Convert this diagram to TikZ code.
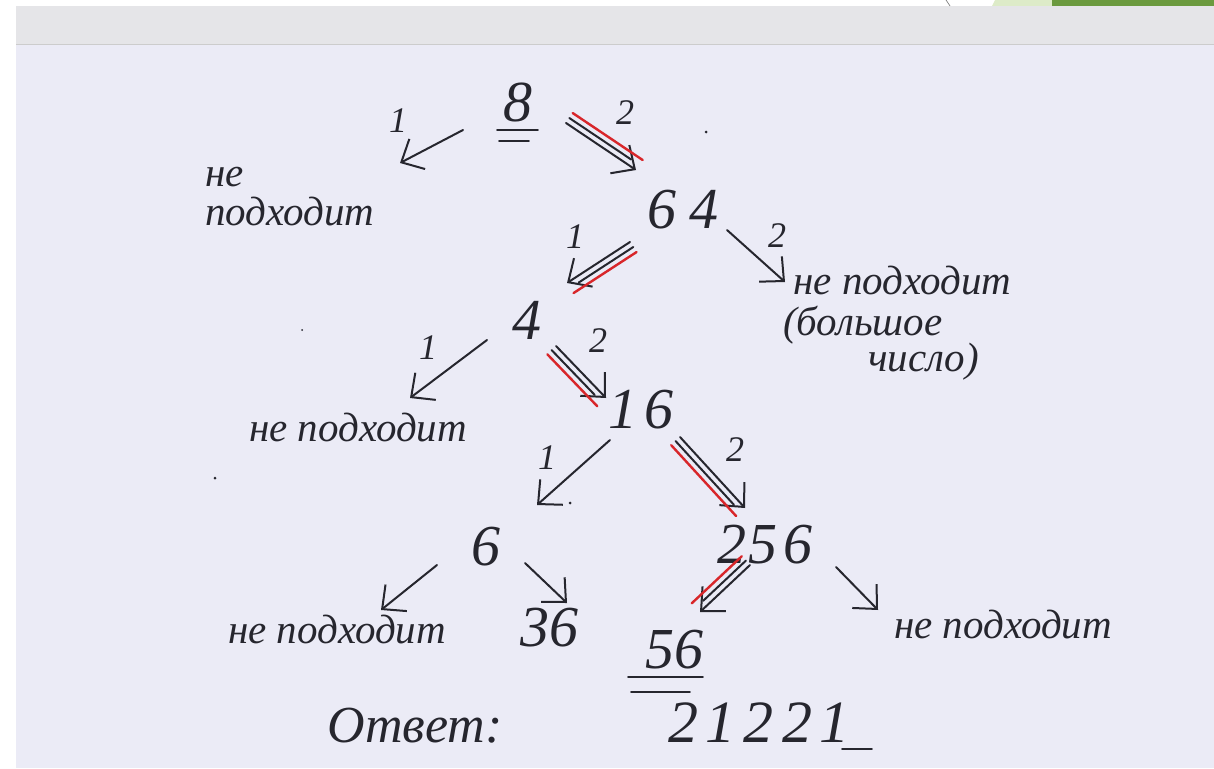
\documentclass[tikz,border=0pt]{standalone}
\usepackage{fontspec}
\setmainfont{Liberation Serif}
\usetikzlibrary{arrows.meta,calc}
\definecolor{paper}{HTML}{EBEBF6}
\definecolor{band}{HTML}{E5E5E8}
\definecolor{ink}{HTML}{26262E}
\definecolor{redink}{HTML}{D8262A}
\definecolor{dgreen}{HTML}{6B9A3E}
\definecolor{lgreen}{HTML}{DDEBC8}
\newcommand\dblarrow[4]{%
  \draw[arr] (#1) -- (#2);
  \draw[shaft, shorten >=10pt] ($(#1)!6pt!#3:(#2)$) -- ($(#2)!6pt!#4:(#1)$);
  \draw[redmark] ($(#1)!12pt!#3:(#2)$) -- ($(#2)!12pt!#4:(#1)$);}
\begin{document}
\begin{tikzpicture}[x=1pt,y=-1pt,
  hand/.style={font=\fontsize{41}{45}\selectfont\itshape, text=ink, inner sep=0pt},
  num/.style={font=\fontsize{58}{60}\selectfont\itshape, text=ink, inner sep=0pt},
  lab/.style={font=\fontsize{36}{38}\selectfont\itshape, text=ink, inner sep=0pt},
  arr/.style={draw=ink, line width=2pt, line cap=round, -{Straight Barb[length=18pt,width=34pt,line width=2pt]}},
  shaft/.style={draw=ink, line width=2pt, line cap=round},
  redmark/.style={draw=redink, line width=2.4pt, line cap=round},
  uline/.style={draw=ink, line width=1.8pt, line cap=round},
  speck/.style={fill=ink, circle, inner sep=0pt, minimum size=3pt}]
\useasboundingbox (0,0) rectangle (1214,768);
% paper and scan edges
\fill[paper] (0,0) rectangle (1214,768);
\fill[white] (0,0) rectangle (16,768);
\fill[white] (0,0) rectangle (1214,6);
\fill[band] (16,6) rectangle (1214,44);
\draw[draw=gray!40, line width=0.8pt] (16,44) -- (1214,44);
\fill[lgreen] (995,0) -- (1060,0) -- (1052,6) -- (992,6) -- cycle;
\fill[dgreen] (1052,0) rectangle (1214,6);
\draw[gray, line width=0.7pt] (946,0) .. controls (948,3) .. (950,6);

% nodes
\node[num] (n8) at (518,102) {8};
\draw[uline] (497,130) -- (538,130);
\draw[uline] (499,141) -- (529,141);
\node[hand, align=left, anchor=west] (nf1) at (205,197) {не\\[-6pt]подходит};
\node[num] (n64) at (683,210) {6\kern14pt 4};
\node[hand, anchor=west] (nf2a) at (793,281) {не подходит};
\node[hand, anchor=west] (nf2b) at (783,325) {(большое};
\node[hand, anchor=west] (nf2c) at (868,362) {число)};
\node[num] (n4) at (527,320) {4};
\node[hand] (nf3) at (358,428) {не подходит};
\node[num] (n16) at (641,410) {1\kern8pt 6};
\node[num] (n6) at (486,547) {6};
\node[num] (n256) at (765,545) {2\kern2pt 5\kern6pt 6};
\node[hand] (nf4) at (337,630) {не подходит};
\node[num] (n36) at (549,628) {36};
\node[num] (n56) at (674,650) {56};
\draw[uline] (628,677) -- (703,677);
\draw[uline] (631,692) -- (690,692);
\node[hand] (nf5) at (1003,625) {не подходит};
\node[num, font=\fontsize{52}{56}\selectfont\itshape] (ans) at (415,726) {Ответ:};
\node[num, font=\fontsize{60}{62}\selectfont\itshape] (code) at (759,723) {2\kern8pt 1\kern8pt 2\kern8pt 2\kern8pt 1};
\draw[uline] (842,749) -- (872,749);

% arrow end points
\coordinate (a1s) at (463,130); \coordinate (a1e) at (400,163);
\coordinate (a2s) at (566,123); \coordinate (a2e) at (636,170);
\coordinate (a3s) at (630,242); \coordinate (a3e) at (567,283);
\coordinate (a4s) at (727,230); \coordinate (a4e) at (785,282);
\coordinate (a5s) at (487,340); \coordinate (a5e) at (410,398);
\coordinate (a6s) at (556,346); \coordinate (a6e) at (606,398);
\coordinate (a7s) at (610,440); \coordinate (a7e) at (537,505);
\coordinate (a8s) at (680,437); \coordinate (a8e) at (745,508);
\coordinate (a9s) at (437,565); \coordinate (a9e) at (381,610);
\coordinate (a10s) at (525,563); \coordinate (a10e) at (567,603);
\coordinate (a11s) at (750,565); \coordinate (a11e) at (700,612);
\coordinate (a12s) at (836,567); \coordinate (a12e) at (878,610);

% connectors
\draw[arr] (a1s) -- (a1e);
\dblarrow{a2s}{a2e}{90}{-90}
\dblarrow{a3s}{a3e}{90}{-90}
\draw[arr] (a4s) -- (a4e);
\draw[arr] (a5s) -- (a5e);
\dblarrow{a6s}{a6e}{-90}{90}
\draw[arr] (a7s) -- (a7e);
\dblarrow{a8s}{a8e}{-90}{90}
\draw[arr] (a9s) -- (a9e);
\draw[arr] (a10s) -- (a10e);
\dblarrow{a11s}{a11e}{-90}{90}
\draw[arr] (a12s) -- (a12e);

% branch labels
\node[lab] (l1) at (398,121) {1};
\node[lab] (l2) at (625,113) {2};
\node[lab] (l3) at (575,237) {1};
\node[lab] (l4) at (777,236) {2};
\node[lab] (l5) at (428,348) {1};
\node[lab] (l6) at (598,341) {2};
\node[lab] (l7) at (547,458) {1};
\node[lab] (l8) at (735,450) {2};

% stray dots
\node[speck] (d1) at (706,132) {};
\node[speck] (d2) at (570,503) {};
\node[speck] (d3) at (215,478) {};
\node[speck, minimum size=2pt] (d4) at (302,330) {};
\end{tikzpicture}
\end{document}
